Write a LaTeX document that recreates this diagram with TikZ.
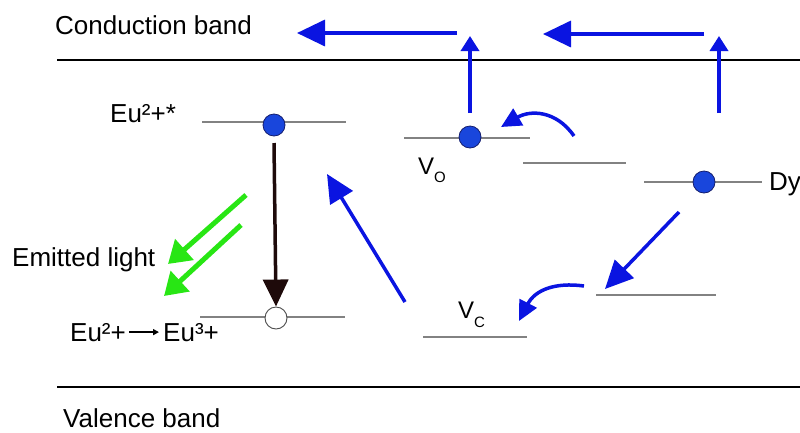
\documentclass[tikz,border=0pt]{standalone}
\usepackage{fontspec}
\setmainfont{Liberation Sans}
\usetikzlibrary{arrows.meta,calc}
\definecolor{arrblue}{RGB}{10,20,225}
\definecolor{dotblue}{RGB}{25,70,220}
\definecolor{dotedge}{RGB}{20,30,110}
\definecolor{lgreen}{RGB}{40,230,20}
\definecolor{lvlgray}{RGB}{130,130,130}
\definecolor{darkhead}{RGB}{30,10,10}
\begin{document}
\begin{tikzpicture}[x=1pt,y=-1pt,
  lbl/.style={font=\fontsize{26}{30}\selectfont, inner sep=0, anchor=base west},
  vlbl/.style={font=\fontsize{24}{28}\selectfont, inner sep=0, anchor=base west},
  sublbl/.style={font=\fontsize{15}{17}\selectfont, inner sep=0, anchor=base west},
  level/.style={draw=lvlgray, line width=1.4pt},
  band/.style={draw=black, line width=1.8pt},
  dot/.style={circle, minimum size=22pt, inner sep=0, fill=dotblue, draw=dotedge, line width=0.8pt},
  hole/.style={circle, minimum size=22pt, inner sep=0, fill=white, draw=black!70, line width=0.9pt},
  bigblue/.style={draw=arrblue, line width=3.5pt, -{Triangle[length=28pt,width=26pt]}},
  smallblue/.style={draw=arrblue, line width=3.5pt, -{Triangle[length=15pt,width=18pt]}},
  curveblue/.style={draw=arrblue, line width=3.5pt, -{Triangle[length=20pt,width=19pt]}},
  greenarr/.style={draw=lgreen, line width=5pt, -{Triangle[length=22pt,width=27pt]}},
  blackarr/.style={draw=darkhead, line width=3.5pt, -{Triangle[length=27pt,width=25pt]}},
  smallblack/.style={draw=black, line width=1.6pt, -{Triangle[length=6pt,width=6pt]}}
]
\useasboundingbox (0,0) rectangle (800,432);

% bands
\coordinate (cbL) at (57,60); \coordinate (cbR) at (800,60);
\coordinate (vbL) at (57,387); \coordinate (vbR) at (800,387);
\draw[band] (cbL) -- (cbR);
\draw[band] (vbL) -- (vbR);
\node[lbl] (cbtext) at (55,34) {Conduction band};
\node[lbl] (vbtext) at (63,427) {Valence band};

% levels
\coordinate (l1a) at (202,122); \coordinate (l1b) at (346,122);
\coordinate (l2a) at (200,317); \coordinate (l2b) at (345,317);
\coordinate (l3a) at (404,138); \coordinate (l3b) at (530,138);
\coordinate (l4a) at (523,163); \coordinate (l4b) at (626,163);
\coordinate (l5a) at (644,182); \coordinate (l5b) at (762,182);
\coordinate (l6a) at (596,295); \coordinate (l6b) at (716,295);
\coordinate (l7a) at (423,337); \coordinate (l7b) at (527,337);
\foreach \a/\b in {l1a/l1b,l2a/l2b,l3a/l3b,l4a/l4b,l5a/l5b,l6a/l6b,l7a/l7b}
  \draw[level] (\a) -- (\b);

% dots
\node[dot] (eu) at (274,125) {};
\node[hole] (eu3) at (276,318) {};
\node[dot] (vo) at (470,137) {};
\node[dot] (dy) at (704,182) {};

% labels
\node[lbl] (eulbl) at (110,122) {Eu²+*};
\node[lbl] (emit) at (12,266) {Emitted light};
\node[lbl] (eu2t) at (70,341) {Eu²+};
\node[lbl] (eu3t) at (163,341) {Eu³+};
\draw[smallblack] ($(eu2t.east)+(3,0)$) -- ($(eu3t.west)+(-4,0)$);
\node[lbl] (dylbl) at (769,190) {Dy};
\node[vlbl] (vol) at (418,174) {V};
\node[sublbl] (vosub) at (434,182) {O};
\node[vlbl] (vcl) at (458,318) {V};
\node[sublbl] (vcsub) at (474,327) {C};

% black transition arrow
\coordinate (bk1) at (274,143);
\draw[blackarr] (bk1) -- (eu3.north);

% green arrows
\coordinate (g1a) at (246,195); \coordinate (g1b) at (168,264);
\coordinate (g2a) at (241,225); \coordinate (g2b) at (164,296);
\draw[greenarr] (g1a) -- (g1b);
\draw[greenarr] (g2a) -- (g2b);

% vertical blue arrows
\coordinate (v1a) at (470,113); \coordinate (v1b) at (470,36);
\coordinate (v2a) at (719,113); \coordinate (v2b) at (719,36);
\draw[smallblue] (v1a) -- (v1b);
\draw[smallblue] (v2a) -- (v2b);

% horizontal blue arrows
\coordinate (h1a) at (457,33); \coordinate (h1b) at (297,33);
\coordinate (h2a) at (704,34); \coordinate (h2b) at (543,34);
\draw[bigblue] (h1a) -- (h1b);
\draw[bigblue] (h2a) -- (h2b);

% diagonal blue arrows
\coordinate (d1a) at (405,302); \coordinate (d1b) at (327,174);
\draw[bigblue] (d1a) -- (d1b);
\coordinate (d2a) at (679,212); \coordinate (d2b) at (605,289);
\draw[bigblue] (d2a) -- (d2b);

% curved blue arrows
\coordinate (c1a) at (574,136); \coordinate (c1b) at (501,127);
\draw[curveblue] (c1a) .. controls (556,110) and (530,110) .. (c1b);
\coordinate (c2a) at (584,286); \coordinate (c2b) at (519,321);
\draw[curveblue] (c2a) .. controls (555,282) and (535,290) .. (c2b);
\end{tikzpicture}
\end{document}
